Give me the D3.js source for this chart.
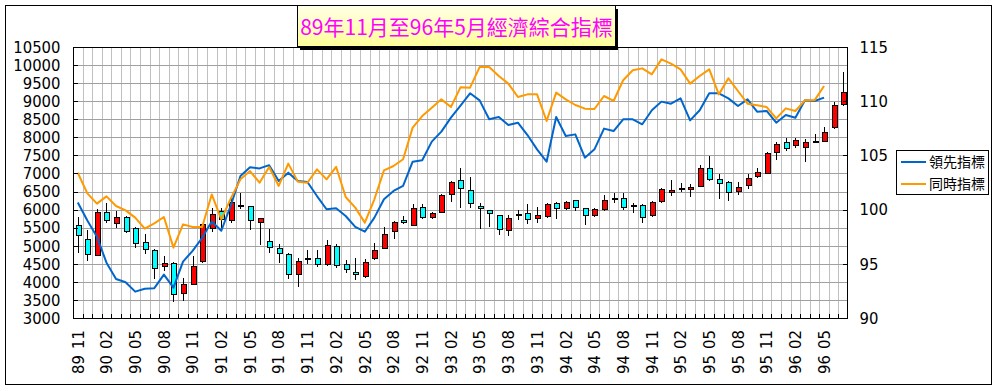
<!DOCTYPE html>
<html><head><meta charset="utf-8">
<script src="https://cdn.jsdelivr.net/npm/d3@7"></script>
<style>
html,body{margin:0;padding:0;background:#fff;}
svg{display:block;}
</style></head>
<body>
<svg id="chart" width="999" height="391"></svg>
<script>
// ---- DATA ----
const categories = [
 "89/11","89/12",
 "90/01","90/02","90/03","90/04","90/05","90/06","90/07","90/08","90/09","90/10","90/11","90/12",
 "91/01","91/02","91/03","91/04","91/05","91/06","91/07","91/08","91/09","91/10","91/11","91/12",
 "92/01","92/02","92/03","92/04","92/05","92/06","92/07","92/08","92/09","92/10","92/11","92/12",
 "93/01","93/02","93/03","93/04","93/05","93/06","93/07","93/08","93/09","93/10","93/11","93/12",
 "94/01","94/02","94/03","94/04","94/05","94/06","94/07","94/08","94/09","94/10","94/11","94/12",
 "95/01","95/02","95/03","95/04","95/05","95/06","95/07","95/08","95/09","95/10","95/11","95/12",
 "96/01","96/02","96/03","96/04","96/05","96/06","96/07"
];
const openVals = [5573,5196,4744,5943,5638,5795,5500,5104,4882,4439,4532,3674,3960,4578,
 5500,5961,5712,6118,6100,5649,5131,4946,4780,4209,4660,4670,4504,5002,4504,4273,4163,4661,
 4946,5408,5722,5592,6072,5805,5934,6441,6810,6533,6100,5989,5851,5445,5865,5915,5777,5823,
 6192,6053,6257,6035,5869,6035,6315,6321,6140,6127,5851,6238,6487,6610,6579,6653,7161,6856,
 6764,6515,6681,6930,7022,7603,7880,7779,7742,7900,7917,8268,8932];
const highVals = [5800,5430,6010,6192,5961,5810,5520,5316,4900,4707,4550,4098,4707,5600,
 6053,6053,6330,6469,6110,5770,5454,5039,4790,4670,4873,4873,5150,5060,4596,4670,4624,5085,
 5519,5685,5814,6164,6164,5943,6423,6791,7142,6912,6192,6000,5860,5851,5980,6164,6081,6173,
 6200,6238,6275,6053,6035,6395,6469,6469,6192,6164,6238,6607,6810,6745,6699,7234,7474,6976,
 6791,6764,6976,7161,7585,7880,7991,7972,7945,8102,8286,8987,9817];
const lowVals = [4800,4580,4716,5638,5500,5362,4928,4762,4070,4301,3452,3470,3940,4530,
 5380,5500,5638,6007,5435,5020,4808,4532,4089,3858,4504,4412,4440,4393,4246,4043,4098,4605,
 4919,5177,5592,5574,5731,5731,5915,6210,6054,6054,5473,5519,5297,5269,5712,5592,5638,5777,
 5749,5989,5961,5565,5795,5961,6192,5989,5897,5629,5795,6173,6367,6487,6349,6626,6791,6284,
 6238,6404,6561,6865,6995,7364,7622,7696,7327,7870,7880,8222,8867];
const closeVals = [5297,4780,5934,5712,5795,5408,5085,4919,4393,4532,3674,3932,4448,5592,
 5888,5731,6220,6108,5712,5759,4974,4808,4227,4578,4645,4504,5020,4467,4365,4209,4559,4882,
 5334,5657,5657,6053,5795,5915,6395,6773,6579,6164,6035,5897,5473,5777,5855,5749,5851,6155,
 6053,6220,6053,5851,6026,6275,6325,6072,6132,5795,6210,6579,6542,6600,6635,7161,6856,6745,
 6496,6635,6884,7041,7576,7825,7714,7917,7880,7895,8157,8886,9264];
// 領先指標 (leading index), 89/11 - 96/05
const leading = [100.65,99.0,97.5,95.1,93.6,93.3,92.43,92.7,92.75,94.0,92.8,95.2,96.2,97.4,
 98.9,98.05,100.4,103.1,103.9,103.8,104.1,102.64,103.41,102.64,102.55,101.25,100.03,100.12,
 99.41,98.4,97.96,99.26,100.95,101.72,102.18,104.42,104.55,106.27,107.19,108.48,109.6,110.73,
 110.08,108.33,108.54,107.8,108.02,106.88,105.56,104.42,108.54,106.79,106.94,104.79,105.56,
 107.47,107.25,108.33,108.33,107.87,109.16,109.96,109.77,110.26,108.23,109.16,110.73,110.73,
 110.26,109.56,110.17,109.03,109.1,108.02,108.73,108.48,110.08,110.02,110.33];
// 同時指標 (coincident index), 89/11 - 96/05
const coincident = [103.4,101.5,100.55,101.22,100.33,99.93,99.26,98.24,98.73,99.32,96.49,98.64,98.4,98.4,
 101.4,99.1,101.04,102.79,103.56,102.48,103.93,102.18,104.24,102.58,102.48,103.71,102.79,103.95,
 101.16,100.18,98.8,100.95,103.62,104.02,104.64,107.56,108.63,109.4,110.17,109.46,111.28,111.25,
 113.15,113.15,112.32,111.62,110.39,110.63,110.63,108.17,110.79,110.17,109.65,109.31,109.28,
 110.48,110.02,111.93,112.85,113.03,112.48,113.86,113.46,112.94,111.62,112.32,112.94,110.63,
 112.11,110.94,109.77,109.62,109.46,108.42,109.34,109.1,110.08,110.08,111.4];
const leftTicks = [3000,3500,4000,4500,5000,5500,6000,6500,7000,7500,8000,8500,9000,9500,10000,10500];
const rightTicks = [90,95,100,105,110,115];
const seriesNames = ["領先指標","同時指標"];
const titleText = "89年11月至96年5月經濟綜合指標";

// ---- LAYOUT ----
const svg = d3.select("#chart");
const L = 73, R = 848, T = 47, B = 318;
const AXF = "'Liberation Sans Narrow','Arial Narrow','DejaVu Sans Condensed',sans-serif";
const CJK = "'Noto Sans CJK TC','Noto Sans CJK SC',sans-serif";

const x = d3.scaleBand().domain(categories).range([L, R]).padding(0);
const yL = d3.scaleLinear().domain([3000, 10500]).range([B, T]);
const yR = d3.scaleLinear().domain([90, 115]).range([B, T]);
const cx = c => x(c) + x.bandwidth() / 2;

// outer frame
svg.append("rect").attr("x", 5.5).attr("y", 5.5).attr("width", 986).attr("height", 379)
  .attr("fill", "#fff").attr("stroke", "#000").attr("stroke-width", 1);

// grid
const g = svg.append("g").attr("shape-rendering", "crispEdges");
g.selectAll(".vg").data(categories.slice(1)).enter().append("line")
  .attr("x1", d => Math.round(x(d)) + 0.5).attr("x2", d => Math.round(x(d)) + 0.5)
  .attr("y1", T).attr("y2", B).attr("stroke", "#c0c0c0");
g.selectAll(".hg").data(leftTicks).enter().append("line")
  .attr("x1", L).attr("x2", R)
  .attr("y1", d => Math.round(yL(d)) + 0.5).attr("y2", d => Math.round(yL(d)) + 0.5)
  .attr("stroke", "#a0a0a0");

// candles
const candles = categories.map((c, i) => ({c, o: openVals[i], h: highVals[i], l: lowVals[i], cl: closeVals[i]}));
const cg = svg.append("g").attr("shape-rendering", "crispEdges");
cg.selectAll(".wick").data(candles).enter().append("line")
  .attr("x1", d => Math.round(cx(d.c)) + 0.5).attr("x2", d => Math.round(cx(d.c)) + 0.5)
  .attr("y1", d => yL(d.h)).attr("y2", d => yL(d.l)).attr("stroke", "#000");
cg.selectAll(".body").data(candles).enter().append("rect")
  .attr("x", d => Math.round(cx(d.c)) - 2 + 0.5)
  .attr("width", 5)
  .attr("y", d => Math.round(yL(Math.max(d.o, d.cl))) + 0.5)
  .attr("height", d => Math.max(1, Math.round(Math.abs(yL(d.o) - yL(d.cl)))))
  .attr("fill", d => d.cl >= d.o ? "#ff0000" : "#00ffff")
  .attr("stroke", "#000").attr("stroke-width", 1);

// lines
const lineGen = d3.line().x((d, i) => cx(categories[i])).y(d => yR(d));
svg.append("path").datum(leading).attr("d", lineGen).attr("fill", "none")
  .attr("stroke", "#0066cc").attr("stroke-width", 2).attr("stroke-linejoin", "round");
svg.append("path").datum(coincident).attr("d", lineGen).attr("fill", "none")
  .attr("stroke", "#ff9900").attr("stroke-width", 2).attr("stroke-linejoin", "round");

// plot border
svg.append("rect").attr("x", L + 0.5).attr("y", T + 0.5).attr("width", R - L - 1).attr("height", B - T)
  .attr("fill", "none").attr("stroke", "#000").attr("shape-rendering", "crispEdges");

// left axis
const axL = svg.append("g").attr("transform", `translate(${L + 0.5},0)`)
  .call(d3.axisLeft(yL).tickValues(leftTicks).tickSize(-4).tickPadding(13).tickFormat(d3.format("d")));
axL.select(".domain").remove();
axL.selectAll("line").attr("stroke", "#000").attr("shape-rendering", "crispEdges");
axL.selectAll("text").attr("font-family", AXF).attr("font-size", 16.5).attr("fill", "#000");

// right axis
const axR = svg.append("g").attr("transform", `translate(${R - 0.5},0)`)
  .call(d3.axisRight(yR).tickValues(rightTicks).tickSize(-5).tickPadding(12).tickFormat(d3.format("d")));
axR.select(".domain").remove();
axR.selectAll("line").attr("stroke", "#000").attr("shape-rendering", "crispEdges");
axR.selectAll("text").attr("font-family", AXF).attr("font-size", 16.5).attr("fill", "#000");

// bottom ticks at category boundaries (inward)
const bt = svg.append("g").attr("shape-rendering", "crispEdges");
bt.selectAll("line").data(categories.slice(1)).enter().append("line")
  .attr("x1", d => Math.round(x(d)) + 0.5).attr("x2", d => Math.round(x(d)) + 0.5)
  .attr("y1", B - 4).attr("y2", B).attr("stroke", "#000");

// category labels, rotated
const labeled = categories.filter((c, i) => i % 3 === 0);
const lb = svg.append("g").attr("font-family", AXF).attr("font-size", 16.5).attr("fill", "#000");
labeled.forEach(c => {
  const [yy, mm] = c.split("/");
  const px = cx(c);
  lb.append("text").attr("transform", `translate(${px},330) rotate(-90)`)
    .attr("text-anchor", "end").attr("dy", "0.35em").text(mm);
  lb.append("text").attr("transform", `translate(${px},355) rotate(-90)`)
    .attr("text-anchor", "end").attr("dy", "0.35em").text(yy);
});

// legend
const lg = svg.append("g");
lg.append("rect").attr("x", 896.5).attr("y", 150.5).attr("width", 92).attr("height", 44)
  .attr("fill", "#fff").attr("stroke", "#000").attr("shape-rendering", "crispEdges");
const legColors = ["#0066cc", "#ff9900"];
seriesNames.forEach((n, i) => {
  const yy = 162 + i * 22;
  lg.append("line").attr("x1", 901).attr("x2", 926).attr("y1", yy).attr("y2", yy)
    .attr("stroke", legColors[i]).attr("stroke-width", 2);
  lg.append("text").attr("x", 929).attr("y", yy).attr("dy", "0.36em")
    .attr("font-family", CJK).attr("font-size", 14).attr("fill", "#000").text(n);
});

// title box
const defs = svg.append("defs");
const grad = defs.append("linearGradient").attr("id", "tg").attr("x1", 0).attr("y1", 0).attr("x2", 0).attr("y2", 1);
grad.append("stop").attr("offset", "0%").attr("stop-color", "#ffffe6");
grad.append("stop").attr("offset", "100%").attr("stop-color", "#ffff99");
svg.append("rect").attr("x", 300).attr("y", 9).attr("width", 318).attr("height", 41)
  .attr("fill", "#000");
svg.append("rect").attr("x", 297.5).attr("y", 5.5).attr("width", 318).attr("height", 41)
  .attr("fill", "url(#tg)").attr("stroke", "#000").attr("shape-rendering", "crispEdges");
svg.append("text").attr("x", 456.5).attr("y", 27).attr("dy", "0.36em").attr("text-anchor", "middle")
  .attr("font-family", CJK).attr("font-size", 21).attr("fill", "#ff00ff").text(titleText);
</script>
</body></html>
